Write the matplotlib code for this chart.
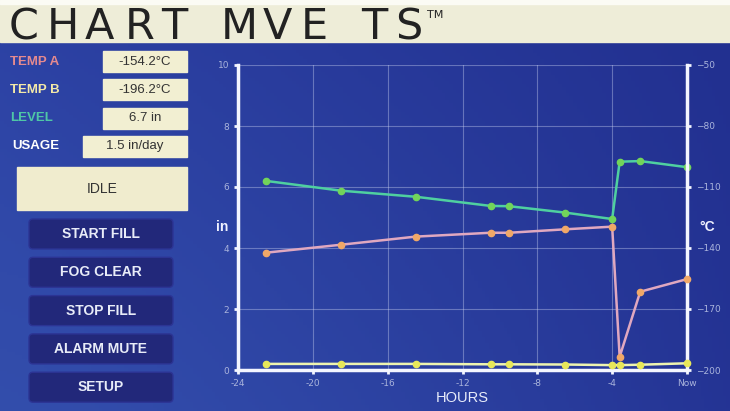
import numpy as np
import matplotlib
matplotlib.use("Agg")
import matplotlib.pyplot as plt
from matplotlib.patches import FancyBboxPatch, Rectangle

# data
hours = [-22.5, -18.5, -14.5, -10.5, -9.5, -6.5, -4.0, -3.6, -2.5, 0.0]
level_in = [6.2, 5.88, 5.68, 5.38, 5.37, 5.16, 4.95, 6.83, 6.85, 6.65]
temp_a = [-142.3, -138.4, -134.4, -132.5, -132.5, -130.8, -129.5, -193.5, -161.5, -155.3]
temp_b = [-197.0, -197.0, -197.0, -197.2, -197.2, -197.3, -197.6, -197.6, -197.4, -196.7]

xticks = [-24, -20, -16, -12, -8, -4, 0]
xlabels = ["-24", "-20", "-16", "-12", "-8", "-4", "Now"]
left_ticks = [0, 2, 4, 6, 8, 10]
right_ticks = [-200, -170, -140, -110, -80, -50]

status_labels = ["TEMP A", "TEMP B", "LEVEL", "USAGE"]
status_values = ["-154.2°C", "-196.2°C", "6.7 in", "1.5 in/day"]
status_colors = ["#e58a8f", "#f3e9a8", "#4fc7a6", "#ffffff"]
buttons = ["START FILL", "FOG CLEAR", "STOP FILL", "ALARM MUTE", "SETUP"]

W, H = 730, 411
fig = plt.figure(figsize=(W / 100, H / 100), dpi=100)

# background in pixel coords
bg = fig.add_axes([0, 0, 1, 1])
bg.set_xlim(0, W)
bg.set_ylim(H, 0)
bg.axis("off")
gx = np.linspace(0, 1, 200)
gy = np.linspace(0, 1, 120)
GX, GY = np.meshgrid(gx, gy)
c1 = np.array([0x2e, 0x44, 0xa6]) / 255
c2 = np.array([0x22, 0x30, 0x90]) / 255
c3 = np.array([0x3a, 0x5c, 0xb4]) / 255
t = np.clip(GX * 0.9 - GY * 0.2 + 0.1, 0, 1)[..., None]
img = c1 * (1 - t) + c2 * t
w3 = 0.4 * GY[..., None] * (1 - GX[..., None])
img = img * (1 - w3) + c3 * w3
bg.imshow(img, extent=[0, W, H, 42], aspect="auto", zorder=0)

# title bar
bg.add_patch(Rectangle((0, 0), W, 42, color="#eeedd8", zorder=1))
bg.add_patch(Rectangle((0, 0), W, 4, color="#fbfbf4", zorder=1))
title = "CHART MVE TS"
x = 9
adv = {"C": 38, "H": 38, "A": 40, "R": 36, "T": 34, " ": 26, "M": 42, "V": 38, "E": 34, "S": 30}
for ch in title:
    if ch != " ":
        bg.text(x, 39, ch, fontsize=31, color="#222222", family="DejaVu Sans",
                va="baseline", ha="left", zorder=2)
    x += adv[ch]
bg.text(x + 2, 18, "TM", fontsize=8, color="#222222", va="baseline", ha="left", zorder=2)

# status rows
rows_y = [62, 90, 118, 146]
for i, lab in enumerate(status_labels):
    y = rows_y[i]
    lx = 10 if i < 3 else 12
    bg.text(lx, y, lab, fontsize=9.5, color=status_colors[i], fontweight="bold",
            family="Liberation Sans", va="center", ha="left", zorder=2)
    bx = 103 if i < 3 else 83
    bg.add_patch(Rectangle((bx, y - 10.5), 187 - bx, 21, color="#f2efd2", zorder=2))
    bg.text((bx + 187) / 2, y, status_values[i], fontsize=9.5, color="#333333",
            family="Liberation Sans", va="center", ha="center", zorder=3)

bg.add_patch(Rectangle((17, 167), 170, 43, color="#f0ecce", zorder=2))
bg.text(102, 189, "IDLE", fontsize=10, color="#333333", family="Liberation Sans",
        va="center", ha="center", zorder=3)

for i, name in enumerate(buttons):
    top = 217 + i * 38.3
    bg.add_patch(FancyBboxPatch((29, top + 2), 144, 30, boxstyle="round,pad=0,rounding_size=4",
                                facecolor="#22287a", edgecolor="#2c3494", lw=1, zorder=2))
    bg.text(101, top + 17, name, fontsize=10, color="#e8ecf8", fontweight="bold",
            family="Liberation Sans", va="center", ha="center", zorder=3)

# chart
ax = fig.add_axes([238 / W, 1 - 370 / H, (687 - 238) / W, (370 - 65) / H])
ax.patch.set_alpha(0)
ax.set_xlim(-24, 0)
ax.set_ylim(0, 10)
ax2 = ax.twinx()
ax2.set_ylim(-200, -50)

ax.grid(True, color="#c8d0f0", alpha=0.4, lw=0.8)
ax.spines["top"].set_visible(False)
ax2.spines["top"].set_visible(False)
ax.spines["left"].set_color("#f4f6ff")
ax.spines["left"].set_linewidth(2.5)
ax.spines["bottom"].set_color("#f4f6ff")
ax.spines["bottom"].set_linewidth(2.5)
ax.spines["right"].set_visible(False)
ax2.spines["left"].set_visible(False)
ax2.spines["bottom"].set_visible(False)
ax2.spines["right"].set_color("#f4f6ff")
ax2.spines["right"].set_linewidth(2.5)

ax.set_xticks(xticks)
ax.set_xticklabels(xlabels)
ax.set_yticks(left_ticks)
ax2.set_yticks(right_ticks)
for a in (ax, ax2):
    a.tick_params(colors="#f4f6ff", labelcolor="#aab4dc", labelsize=6.5, length=3, width=2)

ax.set_xlabel("HOURS", color="#e8ecfa", fontsize=10.5, family="Liberation Sans", labelpad=2)
ax.text(-0.035, 0.47, "in", transform=ax.transAxes, color="#f0f2ff", fontsize=10,
        fontweight="bold", family="Liberation Sans", ha="center", va="center")
ax.text(1.045, 0.47, "°C", transform=ax.transAxes, color="#f0f2ff", fontsize=10,
        fontweight="bold", family="Liberation Sans", ha="center", va="center")

ax.plot(hours, level_in, color="#4fd0a0", lw=1.8, marker="o", ms=4.5,
        mfc="#72d45a", mec="#72d45a", zorder=4, clip_on=False)
ax2.plot(hours, temp_a, color="#e0a8c0", lw=1.8, marker="o", ms=4.5,
         mfc="#f0a868", mec="#f0a868", zorder=4, clip_on=False)
ax2.plot(hours, temp_b, color="#eef4b0", lw=1.8, marker="o", ms=4.5,
         mfc="#e8e85a", mec="#e8e85a", zorder=4, clip_on=False)

fig.savefig("out.png", dpi=100)
